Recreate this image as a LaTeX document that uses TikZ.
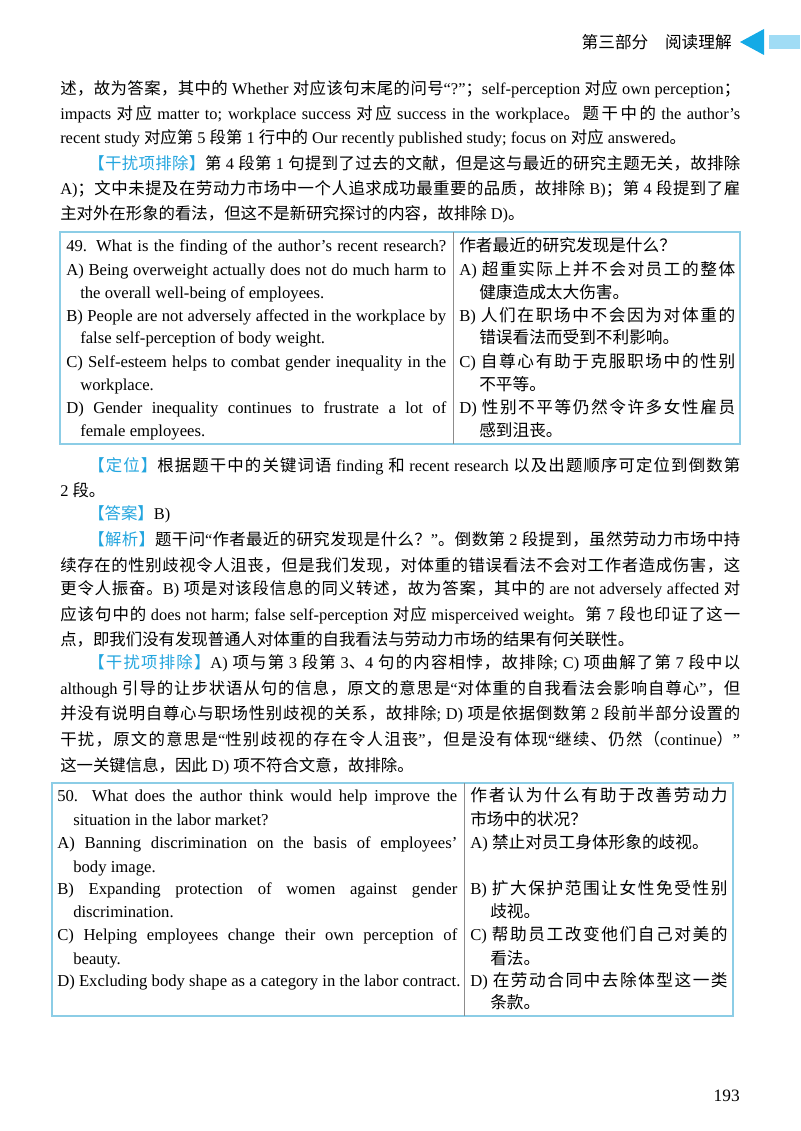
\documentclass[tikz,border=0pt]{standalone}
\usepackage{fontspec}
\setmainfont{Liberation Serif}
\newfontfamily\cjk{Noto Sans CJK SC}
\usetikzlibrary{positioning}

% switch to the CJK family for Chinese characters
\XeTeXinterchartokenstate=1
\newXeTeXintercharclass\hanclass
\count255="3000 \loop \XeTeXcharclass\count255=\hanclass \advance\count255 1 \ifnum\count255<"3040 \repeat
\count255="4E00 \loop \XeTeXcharclass\count255=\hanclass \advance\count255 1 \ifnum\count255<"A000 \repeat
\count255="FF00 \loop \XeTeXcharclass\count255=\hanclass \advance\count255 1 \ifnum\count255<"FFF0 \repeat
\XeTeXinterchartoks 0 \hanclass = {\begingroup\cjk}
\XeTeXinterchartoks 4095 \hanclass = {\begingroup\cjk}
\XeTeXinterchartoks \hanclass 0 = {\endgroup}
\XeTeXinterchartoks \hanclass 4095 = {\endgroup}
\XeTeXinterchartoks \hanclass \hanclass = {\hskip 0pt plus 3pt\relax}

\definecolor{tagblue}{RGB}{35,165,222}
\definecolor{tabline}{RGB}{140,205,230}
\definecolor{arrowblue}{RGB}{20,170,230}
\definecolor{barblue}{RGB}{160,220,245}
\newcommand\lbl[1]{{\color{tagblue}【#1】}}
\newcommand\jl[2]{\hbox to #1pt{#2}}

\begin{document}
\begin{tikzpicture}[x=0.75pt,y=-0.75pt,
    ln/.style={anchor=base west, inner sep=0pt, font=\fontsize{12.3}{14}\selectfont},
    tl/.style={anchor=base west, inner sep=0pt, font=\fontsize{12.5}{14}\selectfont},
    frame/.style={draw=tabline, line width=1.2pt},
    divline/.style={draw=black!45, line width=0.5pt}
  ]
    \useasboundingbox (0,0) rectangle (800,1131);

    % header
    \node[anchor=base east, inner sep=0pt, font=\fontsize{12.5}{14}\selectfont] (head) at (732,49) {第三部分\quad 阅读理解};
    \fill[arrowblue] (764,29) -- (740,42) -- (764,55) -- cycle;
    \fill[barblue] (769,35) rectangle (800,49);

    % first block
    \node[ln] (p1a) at (60,94) {\jl{510}{述，故为答案，其中的 Whether 对应该句末尾的问号“?”；self-perception 对应 own perception；}};
    \node[ln] (p1b) at (60,119) {\jl{510}{impacts 对应 matter to; workplace success 对应 success in the workplace。题干中的 the author’s}};
    \node[ln] (p1c) at (60,143) {recent study 对应第 5 段第 1 行中的 Our recently published study; focus on 对应 answered。};
    \node[ln] (p2a) at (88,169) {\jl{489}{\lbl{干扰项排除}第 4 段第 1 句提到了过去的文献，但是这与最近的研究主题无关，故排除}};
    \node[ln] (p2b) at (60,194) {\jl{510}{A)；文中未提及在劳动力市场中一个人追求成功最重要的品质，故排除 B)；第 4 段提到了雇}};
    \node[ln] (p2c) at (60,219) {主对外在形象的看法，但这不是新研究探讨的内容，故排除 D)。};

    % table 49
    \draw[frame] (60,232) rectangle (740,444);
    \draw[divline] (453,232) -- (453,444);
    \node[tl] (qa) at (66,251) {\jl{285}{49. What is the finding of the author’s recent research?}};
    \node[tl] (qb) at (66,275) {\jl{285}{A) Being overweight actually does not do much harm to}};
    \node[tl] (qc) at (80,298) {the overall well-being of employees.};
    \node[tl] (qd) at (66,321) {\jl{285}{B) People are not adversely affected in the workplace by}};
    \node[tl] (qe) at (80,343) {false self-perception of body weight.};
    \node[tl] (qf) at (66,367) {\jl{285}{C) Self-esteem helps to combat gender inequality in the}};
    \node[tl] (qg) at (80,390) {workplace.};
    \node[tl] (qh) at (66,413) {\jl{285}{D) Gender inequality continues to frustrate a lot of}};
    \node[tl] (qi) at (80,436) {female employees.};
    \node[tl] (ca) at (459,251) {作者最近的研究发现是什么？};
    \node[tl] (cb) at (459,275) {\jl{207}{A) 超重实际上并不会对员工的整体}};
    \node[tl] (cc) at (479,298) {健康造成太大伤害。};
    \node[tl] (cd) at (459,321) {\jl{207}{B) 人们在职场中不会因为对体重的}};
    \node[tl] (ce) at (479,343) {错误看法而受到不利影响。};
    \node[tl] (cf) at (459,367) {\jl{207}{C) 自尊心有助于克服职场中的性别}};
    \node[tl] (cg) at (479,390) {不平等。};
    \node[tl] (ch) at (459,413) {\jl{207}{D) 性别不平等仍然令许多女性雇员}};
    \node[tl] (ci) at (479,436) {感到沮丧。};

    % analysis of 49
    \node[ln] (r1) at (88,471) {\jl{489}{\lbl{定位}根据题干中的关键词语 finding 和 recent research 以及出题顺序可定位到倒数第}};
    \node[ln] (r2) at (60,496) {2 段。};
    \node[ln] (r3) at (88,519) {\lbl{答案}B)};
    \node[ln] (r4) at (88,545) {\jl{489}{\lbl{解析}题干问“作者最近的研究发现是什么？”。倒数第 2 段提到，虽然劳动力市场中持}};
    \node[ln] (r5) at (60,571) {\jl{510}{续存在的性别歧视令人沮丧，但是我们发现，对体重的错误看法不会对工作者造成伤害，这}};
    \node[ln] (r6) at (60,594) {\jl{510}{更令人振奋。B) 项是对该段信息的同义转述，故为答案，其中的 are not adversely affected 对}};
    \node[ln] (r7) at (60,620) {\jl{510}{应该句中的 does not harm; false self-perception 对应 misperceived weight。第 7 段也印证了这一}};
    \node[ln] (r8) at (60,645) {点，即我们没有发现普通人对体重的自我看法与劳动力市场的结果有何关联性。};
    \node[ln] (r9) at (88,668) {\jl{489}{\lbl{干扰项排除}A) 项与第 3 段第 3、4 句的内容相悖，故排除; C) 项曲解了第 7 段中以}};
    \node[ln] (r10) at (60,694) {\jl{510}{although 引导的让步状语从句的信息，原文的意思是“对体重的自我看法会影响自尊心”，但}};
    \node[ln] (r11) at (60,719) {\jl{510}{并没有说明自尊心与职场性别歧视的关系，故排除; D) 项是依据倒数第 2 段前半部分设置的}};
    \node[ln] (r12) at (60,745) {\jl{510}{干扰，原文的意思是“性别歧视的存在令人沮丧”，但是没有体现“继续、仍然（continue）”}};
    \node[ln] (r13) at (60,771) {这一关键信息，因此 D) 项不符合文意，故排除。};

    % table 50
    \draw[frame] (52,783) rectangle (733,1016);
    \draw[divline] (464,783) -- (464,1016);
    \node[tl] (sa) at (57,801) {\jl{300}{50. What does the author think would help improve the}};
    \node[tl] (sb) at (73,825) {situation in the labor market?};
    \node[tl] (sc) at (57,848) {\jl{300}{A) Banning discrimination on the basis of employees’}};
    \node[tl] (sd) at (73,872) {body image.};
    \node[tl] (se) at (57,894) {\jl{300}{B) Expanding protection of women against gender}};
    \node[tl] (sf) at (73,917) {discrimination.};
    \node[tl] (sg) at (57,940) {\jl{300}{C) Helping employees change their own perception of}};
    \node[tl] (sh) at (73,964) {beauty.};
    \node[tl] (si) at (57,986) {D) Excluding body shape as a category in the labor contract.};
    \node[tl] (ta) at (470,801) {\jl{193}{作者认为什么有助于改善劳动力}};
    \node[tl] (tb) at (470,825) {市场中的状况？};
    \node[tl] (tc) at (470,848) {A) 禁止对员工身体形象的歧视。};
    \node[tl] (td) at (470,894) {\jl{193}{B) 扩大保护范围让女性免受性别}};
    \node[tl] (te) at (490,917) {歧视。};
    \node[tl] (tf) at (470,940) {\jl{193}{C) 帮助员工改变他们自己对美的}};
    \node[tl] (tg) at (490,964) {看法。};
    \node[tl] (th) at (470,986) {\jl{193}{D) 在劳动合同中去除体型这一类}};
    \node[tl] (ti) at (490,1008) {条款。};

    % page number
    \node[anchor=base east, inner sep=0pt, font=\fontsize{13}{15}\selectfont] (pnum) at (740,1101) {193};
  \end{tikzpicture}
\end{document}
